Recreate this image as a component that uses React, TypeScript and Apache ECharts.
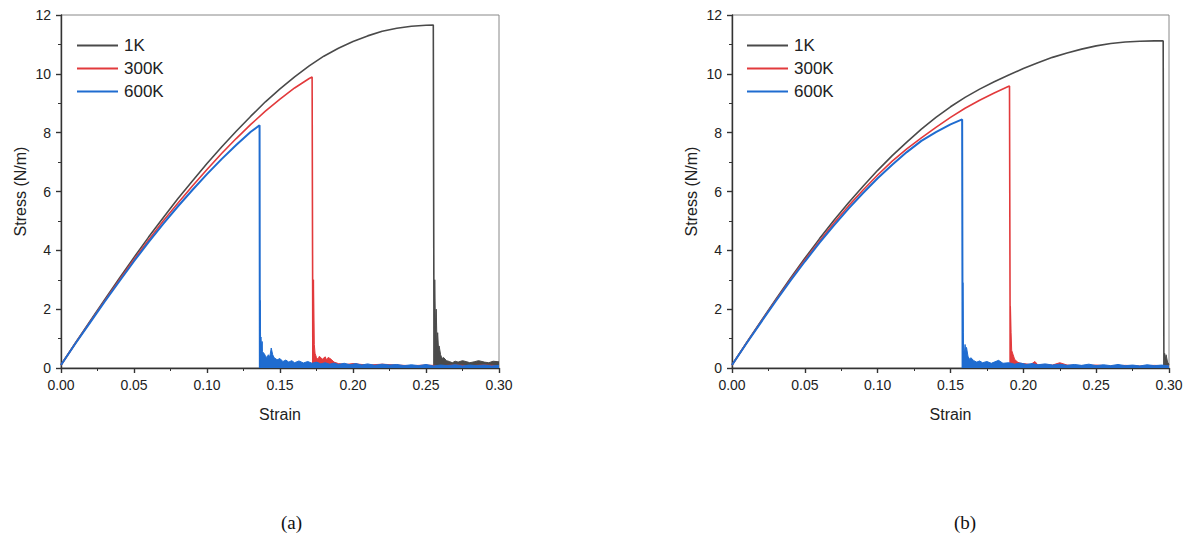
import React, { useEffect, useRef } from "react";
import * as echarts from "echarts";

// ---------- data ----------
const seriesNames = ["1K", "300K", "600K"];
const xTicks = [0, 0.05, 0.1, 0.15, 0.2, 0.25, 0.3];
const yTicks = [0, 2, 4, 6, 8, 10, 12];

// Panel (a)
const a1K: number[][] = [
  [0, 0.1], [0.01, 0.86], [0.02, 1.6], [0.03, 2.33], [0.04, 3.05], [0.05, 3.76],
  [0.06, 4.45], [0.07, 5.11], [0.08, 5.75], [0.09, 6.36], [0.1, 6.95], [0.11, 7.51],
  [0.12, 8.05], [0.13, 8.56], [0.14, 9.05], [0.15, 9.49], [0.16, 9.9], [0.17, 10.27],
  [0.18, 10.6], [0.19, 10.87], [0.2, 11.1], [0.21, 11.29], [0.22, 11.45], [0.23, 11.55],
  [0.24, 11.62], [0.25, 11.65], [0.255, 11.66], [0.2555, 0],
];
const a1KTail: number[][] = [
  [0.2555, 0], [0.256, 3.0], [0.2565, 1.3], [0.257, 2.0], [0.2575, 0.9], [0.258, 1.2],
  [0.2585, 0.7], [0.259, 0.75], [0.26, 0.45], [0.261, 0.32], [0.262, 0.36], [0.264, 0.25],
  [0.266, 0.22], [0.268, 0.18], [0.27, 0.23], [0.272, 0.2], [0.275, 0.25], [0.278, 0.21],
  [0.28, 0.18], [0.283, 0.21], [0.286, 0.25], [0.29, 0.2], [0.293, 0.18], [0.296, 0.23],
  [0.3, 0.21],
];
const a300K: number[][] = [
  [0, 0.1], [0.01, 0.85], [0.02, 1.57], [0.03, 2.29], [0.04, 2.99], [0.05, 3.69],
  [0.06, 4.35], [0.07, 5.0], [0.08, 5.6], [0.09, 6.19], [0.1, 6.75], [0.11, 7.29],
  [0.12, 7.8], [0.13, 8.28], [0.14, 8.73], [0.15, 9.14], [0.16, 9.52], [0.17, 9.84],
  [0.172, 9.89], [0.1725, 0],
];
const a300KTail: number[][] = [
  [0.1725, 0], [0.173, 3.0], [0.1735, 0.8], [0.174, 0.5], [0.175, 0.35], [0.176, 0.3],
  [0.177, 0.4], [0.179, 0.3], [0.181, 0.38], [0.182, 0.26], [0.183, 0.36], [0.185, 0.3],
  [0.187, 0.2], [0.19, 0.15], [0.195, 0.12], [0.2, 0.15], [0.21, 0.1], [0.22, 0.13],
  [0.23, 0.1], [0.24, 0.08], [0.25, 0.1], [0.26, 0.08], [0.27, 0.1], [0.28, 0.08],
  [0.29, 0.1], [0.3, 0.08],
];
const a600K: number[][] = [
  [0, 0.1], [0.01, 0.84], [0.02, 1.55], [0.03, 2.26], [0.04, 2.95], [0.05, 3.63],
  [0.06, 4.28], [0.07, 4.9], [0.08, 5.49], [0.09, 6.05], [0.1, 6.59], [0.11, 7.1],
  [0.12, 7.58], [0.13, 8.03], [0.136, 8.25], [0.1362, 0],
];
const a600KTail: number[][] = [
  [0.1362, 0], [0.1364, 2.3], [0.1367, 1.0], [0.137, 1.05], [0.1374, 0.7], [0.1378, 0.9],
  [0.138, 0.55], [0.139, 0.5], [0.14, 0.42], [0.141, 0.35], [0.142, 0.45], [0.143, 0.38],
  [0.144, 0.68], [0.145, 0.45], [0.146, 0.35], [0.148, 0.28], [0.15, 0.32], [0.152, 0.22],
  [0.154, 0.27], [0.156, 0.2], [0.158, 0.25], [0.16, 0.18], [0.163, 0.24], [0.166, 0.17],
  [0.169, 0.22], [0.172, 0.16], [0.175, 0.2], [0.178, 0.14], [0.181, 0.18], [0.184, 0.13],
  [0.187, 0.17], [0.19, 0.12], [0.194, 0.16], [0.198, 0.11], [0.202, 0.15], [0.206, 0.1],
  [0.21, 0.14], [0.215, 0.09], [0.22, 0.13], [0.225, 0.1], [0.23, 0.12], [0.235, 0.08],
  [0.24, 0.11], [0.245, 0.08], [0.25, 0.12], [0.255, 0.07], [0.26, 0.1], [0.265, 0.08],
  [0.27, 0.11], [0.275, 0.07], [0.28, 0.1], [0.285, 0.08], [0.29, 0.1], [0.295, 0.07],
  [0.3, 0.09],
];

// Panel (b)
const b1K: number[][] = [
  [0, 0.1], [0.01, 0.86], [0.02, 1.6], [0.03, 2.33], [0.04, 3.04], [0.05, 3.73],
  [0.06, 4.39], [0.07, 5.02], [0.08, 5.62], [0.09, 6.18], [0.1, 6.72], [0.11, 7.22],
  [0.12, 7.68], [0.13, 8.12], [0.14, 8.52], [0.15, 8.88], [0.16, 9.2], [0.17, 9.48],
  [0.18, 9.73], [0.19, 9.96], [0.2, 10.18], [0.21, 10.38], [0.22, 10.56], [0.23, 10.71],
  [0.24, 10.84], [0.25, 10.95], [0.26, 11.03], [0.27, 11.08], [0.28, 11.11], [0.29, 11.12],
  [0.296, 11.12], [0.2965, 0],
];
const b1KTail: number[][] = [
  [0.2965, 0], [0.297, 0.5], [0.2975, 0.3], [0.298, 0.45], [0.299, 0.2], [0.3, 0.12],
];
const b300K: number[][] = [
  [0, 0.1], [0.01, 0.85], [0.02, 1.58], [0.03, 2.3], [0.04, 3.0], [0.05, 3.67],
  [0.06, 4.31], [0.07, 4.93], [0.08, 5.51], [0.09, 6.05], [0.1, 6.56], [0.11, 7.03],
  [0.12, 7.45], [0.13, 7.82], [0.14, 8.18], [0.15, 8.52], [0.16, 8.83], [0.17, 9.1],
  [0.18, 9.35], [0.19, 9.58], [0.1905, 9.59], [0.191, 0],
];
const b300KTail: number[][] = [
  [0.191, 0], [0.1912, 2.1], [0.1916, 1.2], [0.192, 0.6], [0.193, 0.45], [0.194, 0.3],
  [0.196, 0.2], [0.198, 0.16], [0.2, 0.15], [0.205, 0.12], [0.208, 0.22], [0.21, 0.1],
  [0.215, 0.12], [0.22, 0.1], [0.225, 0.18], [0.23, 0.1], [0.24, 0.08], [0.25, 0.1],
  [0.26, 0.07], [0.27, 0.09], [0.28, 0.07], [0.29, 0.09], [0.3, 0.07],
];
const b600K: number[][] = [
  [0, 0.1], [0.01, 0.84], [0.02, 1.56], [0.03, 2.27], [0.04, 2.96], [0.05, 3.62],
  [0.06, 4.25], [0.07, 4.85], [0.08, 5.42], [0.09, 5.95], [0.1, 6.45], [0.11, 6.91],
  [0.12, 7.34], [0.13, 7.72], [0.14, 8.02], [0.15, 8.28], [0.158, 8.45], [0.1583, 0],
];
const b600KTail: number[][] = [
  [0.1583, 0], [0.1585, 2.9], [0.1588, 1.2], [0.159, 0.6], [0.1595, 0.5], [0.16, 0.8],
  [0.1605, 0.55], [0.161, 0.7], [0.162, 0.4], [0.163, 0.3], [0.164, 0.35], [0.166, 0.25],
  [0.168, 0.2], [0.17, 0.24], [0.172, 0.18], [0.175, 0.22], [0.178, 0.16], [0.18, 0.2],
  [0.183, 0.26], [0.186, 0.16], [0.19, 0.18], [0.194, 0.13], [0.198, 0.17], [0.202, 0.12],
  [0.206, 0.15], [0.21, 0.11], [0.215, 0.14], [0.22, 0.1], [0.225, 0.13], [0.23, 0.09],
  [0.235, 0.12], [0.24, 0.09], [0.245, 0.13], [0.25, 0.08], [0.255, 0.11], [0.26, 0.08],
  [0.265, 0.12], [0.27, 0.08], [0.275, 0.1], [0.28, 0.07], [0.285, 0.11], [0.29, 0.08],
  [0.295, 0.1], [0.3, 0.07],
];

const colors = ["#4a4a4a", "#e23a3c", "#1f6cd0"];
const widths = [1.6, 1.6, 2];

const FONT = "Arial, 'Liberation Sans', sans-serif";

export default function App() {
  const ref = useRef<HTMLDivElement>(null);
  useEffect(() => {
    if (!ref.current) return;
    const chart = echarts.init(ref.current, undefined, { renderer: "svg" });

    const grids = [
      { left: 61, top: 15, width: 438, height: 353 },
      { left: 732, top: 15, width: 437, height: 353 },
    ];
    const mkX = (gi: number) => ({
      type: "value",
      gridIndex: gi,
      min: xTicks[0],
      max: xTicks[xTicks.length - 1],
      interval: 0.05,
      name: "Strain",
      nameLocation: "middle",
      nameGap: 38,
      nameTextStyle: { fontFamily: FONT, fontSize: 16, color: "#222" },
      axisLine: { onZero: false, lineStyle: { color: "#333", width: 1.4 } },
      axisTick: { show: true, inside: false, length: 5, lineStyle: { color: "#333", width: 1.4 } },
      minorTick: { show: true, splitNumber: 2, length: 3, lineStyle: { color: "#333", width: 1 } },
      axisLabel: {
        fontFamily: FONT, fontSize: 14, color: "#222", margin: 10,
        formatter: (v: number) => v.toFixed(2),
      },
      splitLine: { show: false },
    });
    const mkY = (gi: number) => ({
      type: "value",
      gridIndex: gi,
      min: yTicks[0],
      max: yTicks[yTicks.length - 1],
      interval: 2,
      name: "Stress (N/m)",
      nameLocation: "middle",
      nameGap: 33,
      nameTextStyle: { fontFamily: FONT, fontSize: 16, color: "#222" },
      axisLine: { onZero: false, lineStyle: { color: "#333", width: 1.4 } },
      axisTick: { show: true, inside: false, length: 5, lineStyle: { color: "#333", width: 1.4 } },
      minorTick: { show: true, splitNumber: 2, length: 3, lineStyle: { color: "#333", width: 1 } },
      axisLabel: { fontFamily: FONT, fontSize: 14, color: "#222", margin: 10 },
      splitLine: { show: false },
    });

    const panels = [
      { main: [a1K, a300K, a600K], tail: [a1KTail, a300KTail, a600KTail] },
      { main: [b1K, b300K, b600K], tail: [b1KTail, b300KTail, b600KTail] },
    ];
    const series: any[] = [];
    panels.forEach((p, gi) => {
      seriesNames.forEach((name, si) => {
        series.push({
          type: "line",
          name,
          xAxisIndex: gi,
          yAxisIndex: gi,
          data: p.main[si],
          showSymbol: false,
          symbol: "none",
          color: colors[si],
          lineStyle: { color: colors[si], width: widths[si] },
          z: 2 + si,
        });
        series.push({
          type: "line",
          name,
          xAxisIndex: gi,
          yAxisIndex: gi,
          data: p.tail[si],
          showSymbol: false,
          symbol: "none",
          color: colors[si],
          lineStyle: { color: colors[si], width: 1 },
          areaStyle: { color: colors[si], opacity: 1 },
          z: 2 + si,
        });
      });
    });

    const mkLegend = (left: number) => ({
      left,
      top: 37,
      orient: "vertical",
      padding: 0,
      icon: "rect",
      itemWidth: 41,
      itemHeight: 2,
      itemGap: 6,
      data: seriesNames,
      textStyle: { fontFamily: FONT, fontSize: 17, color: "#222", padding: [0, 0, 0, 1] },
      selectedMode: false,
    });

    chart.setOption({
      animation: false,
      backgroundColor: "#ffffff",
      grid: grids.map((g) => ({
        ...g,
        show: true,
        borderColor: "#888",
        borderWidth: 1,
        backgroundColor: "transparent",
      })),
      xAxis: [mkX(0), mkX(1)],
      yAxis: [mkY(0), mkY(1)],
      legend: [mkLegend(77), mkLegend(747)],
      series,
      graphic: [
        {
          type: "text",
          left: 281,
          top: 513,
          style: { text: "(a)", fontFamily: "'Liberation Serif', 'Times New Roman', serif", fontSize: 19, fill: "#111" },
        },
        {
          type: "text",
          left: 954,
          top: 513,
          style: { text: "(b)", fontFamily: "'Liberation Serif', 'Times New Roman', serif", fontSize: 19, fill: "#111" },
        },
      ],
    });
    return () => chart.dispose();
  }, []);
  return (
    <div
      ref={ref}
      style={{ position: "fixed", left: 0, top: 0, width: 1193, height: 540, background: "#fff" }}
    />
  );
}
